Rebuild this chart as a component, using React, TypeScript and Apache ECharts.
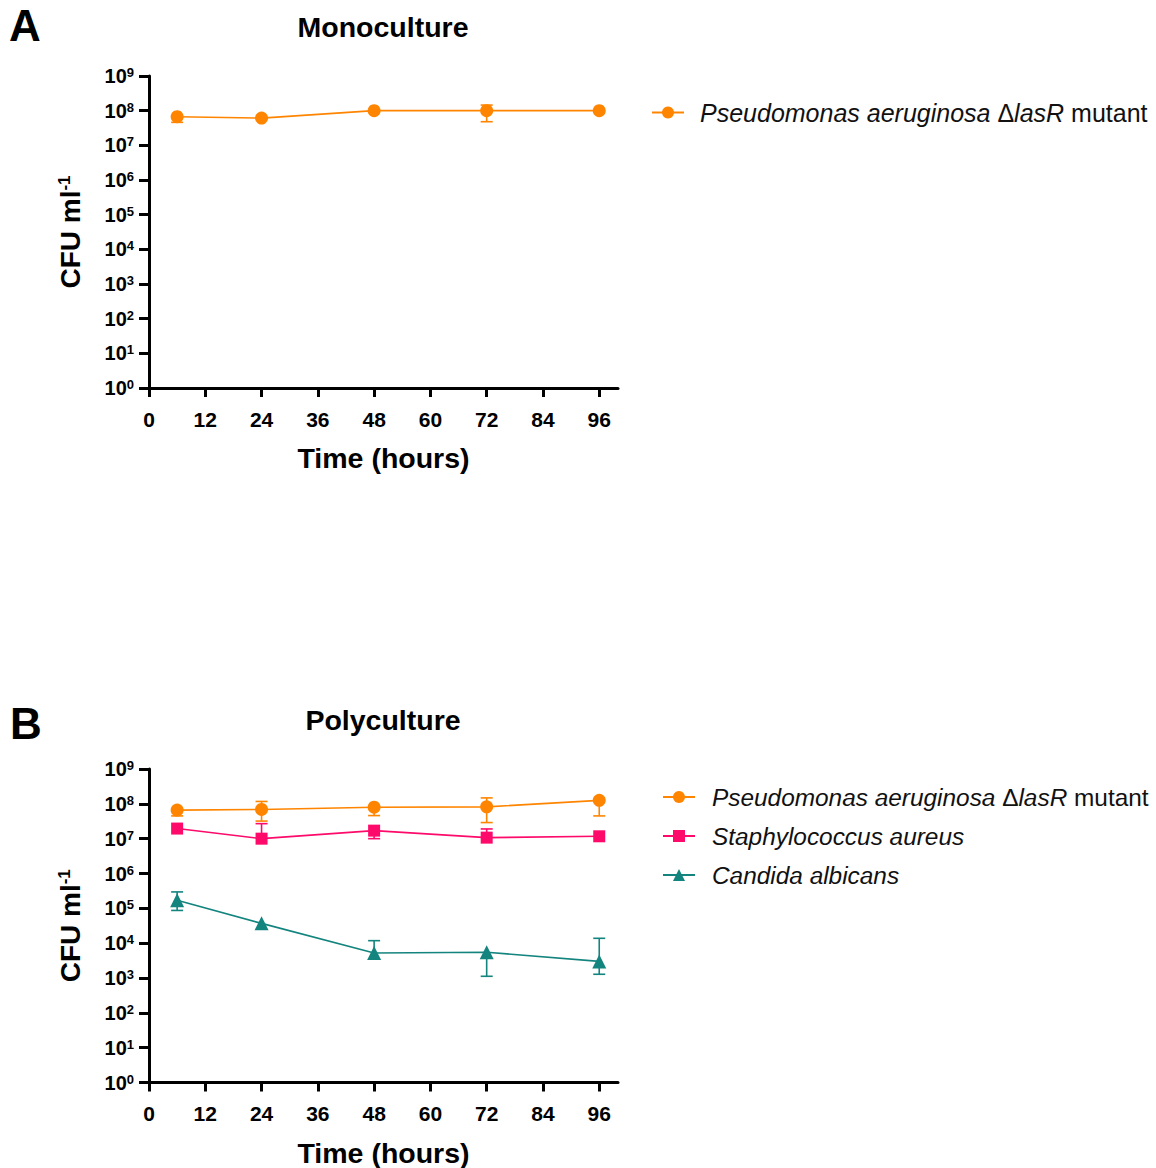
import React, { useEffect, useRef } from 'react';
import * as echarts from 'echarts';

// ---------- data ----------
const hours = [6, 24, 48, 72, 96];
const xTicks = [0, 12, 24, 36, 48, 60, 72, 84, 96];

const namePa = 'Pseudomonas aeruginosa ΔlasR mutant';
const nameSa = 'Staphylococcus aureus';
const nameCa = 'Candida albicans';

// Panel A – monoculture
const monoPa = [6.7e7, 6.1e7, 1.0e8, 1.0e8, 1.0e8];
const monoPaLo = [4.6e7, 6.1e7, 1.0e8, 4.8e7, 1.0e8];
const monoPaHi = [6.7e7, 6.1e7, 1.0e8, 1.45e8, 1.0e8];

// Panel B – polyculture
const polyPa = [6.6e7, 6.9e7, 8.0e7, 8.2e7, 1.26e8];
const polyPaLo = [4.5e7, 3.2e7, 4.6e7, 2.9e7, 4.5e7];
const polyPaHi = [6.6e7, 1.17e8, 8.0e7, 1.48e8, 1.26e8];

const polySa = [1.95e7, 1.0e7, 1.7e7, 1.07e7, 1.17e7];
const polySaLo = [1.95e7, 1.0e7, 1.0e7, 1.07e7, 1.17e7];
const polySaHi = [1.95e7, 2.7e7, 1.7e7, 1.9e7, 1.17e7];

const polyCa = [1.7e5, 3.7e4, 5.2e3, 5.5e3, 3.0e3];
const polyCaLo = [8.7e4, 3.7e4, 5.2e3, 1.12e3, 1.28e3];
const polyCaHi = [2.96e5, 3.7e4, 1.18e4, 5.5e3, 1.38e4];

// ---------- styles ----------
const FONT = "'Liberation Sans', Arial, Helvetica, sans-serif";
const ORANGE = '#ff8500';
const PINK = '#fe0a6b';
const TEAL = '#14847f';

function errSeries(gi: number, color: string, v: number[], lo: number[], hi: number[]) {
  return {
    type: 'custom',
    name: 'err' + gi + color,
    xAxisIndex: gi,
    yAxisIndex: gi,
    z: 1,
    silent: true,
    clip: false,
    encode: { x: 0, y: [1, 2, 3] },
    data: hours.map((h, i) => [h, v[i], lo[i], hi[i]]),
    renderItem: (params: any, api: any) => {
      const x = api.value(0);
      const c = api.value(1);
      const l = api.value(2);
      const u = api.value(3);
      const pc = api.coord([x, c]);
      const children: any[] = [];
      const style = { stroke: color, lineWidth: 1.6, fill: 'none' };
      const cw = 6;
      if (u > c) {
        const pu = api.coord([x, u]);
        children.push({ type: 'line', shape: { x1: pc[0], y1: pc[1], x2: pu[0], y2: pu[1] }, style });
        children.push({ type: 'line', shape: { x1: pu[0] - cw, y1: pu[1], x2: pu[0] + cw, y2: pu[1] }, style });
      }
      if (l < c) {
        const pl = api.coord([x, l]);
        children.push({ type: 'line', shape: { x1: pc[0], y1: pc[1], x2: pl[0], y2: pl[1] }, style });
        children.push({ type: 'line', shape: { x1: pl[0] - cw, y1: pl[1], x2: pl[0] + cw, y2: pl[1] }, style });
      }
      return { type: 'group', children };
    },
  };
}

function lineSeries(gi: number, name: string, color: string, symbol: string, size: number, v: number[]) {
  return {
    type: 'line',
    name,
    xAxisIndex: gi,
    yAxisIndex: gi,
    z: 3,
    data: hours.map((h, i) => [h, v[i]]),
    symbol,
    symbolSize: size,
    showAllSymbol: true,
    color,
    itemStyle: { color, opacity: 1 },
    lineStyle: { color, width: 1.6 },
  };
}

function xAxis(gi: number) {
  return {
    gridIndex: gi,
    type: 'value',
    min: 0,
    max: 100,
    interval: 12,
    axisLine: { onZero: false, lineStyle: { color: '#000', width: 3 } },
    axisTick: { show: true, length: 9, customValues: xTicks, lineStyle: { color: '#000', width: 3 } },
    axisLabel: {
      customValues: xTicks,
      fontSize: 21,
      fontWeight: 'bold',
      fontFamily: FONT,
      color: '#000',
      margin: 31,
      verticalAlign: 'middle',
    },
    splitLine: { show: false },
    name: 'Time (hours)',
    nameLocation: 'middle',
    nameGap: 70,
    nameTextStyle: { fontSize: 28.5, fontWeight: 'bold', fontFamily: FONT, color: '#000', verticalAlign: 'middle' },
  };
}

function yAxis(gi: number) {
  return {
    gridIndex: gi,
    type: 'log',
    logBase: 10,
    min: 1,
    max: 1e9,
    splitNumber: 9,
    axisLine: { show: true, lineStyle: { color: '#000', width: 3 } },
    axisTick: { show: true, length: 10, lineStyle: { color: '#000', width: 3 } },
    axisLabel: {
      margin: 15,
      formatter: (v: number) => `{b|10}{s|${Math.round(Math.log10(v))}}`,
      rich: {
        b: { fontSize: 20, fontWeight: 'bold', fontFamily: FONT, color: '#000', lineHeight: 20 },
        s: { fontSize: 13, fontWeight: 'bold', fontFamily: FONT, color: '#000', lineHeight: 12, verticalAlign: 'top' },
      },
    },
    splitLine: { show: false },
    name: '{a|CFU ml}{s|-1}',
    nameLocation: 'middle',
    nameGap: 79,
    nameTextStyle: {
      verticalAlign: 'middle',
      rich: {
        a: { fontSize: 28, fontWeight: 'bold', fontFamily: FONT, color: '#000', lineHeight: 28 },
        s: { fontSize: 17, fontWeight: 'bold', fontFamily: FONT, color: '#000', lineHeight: 17, verticalAlign: 'top' },
      },
    },
  };
}

function legendRich(fs: number, gap: number) {
  return {
    i0: { fontSize: fs, fontStyle: 'italic', fontFamily: FONT, color: '#111', lineHeight: 28, padding: [0, 0, 0, gap] },
    i: { fontSize: fs, fontStyle: 'italic', fontFamily: FONT, color: '#111', lineHeight: 28 },
    n: { fontSize: fs, fontFamily: FONT, color: '#111', lineHeight: 28 },
  };
}

function legendFormatter(name: string) {
  if (name === namePa) {
    return '{i0|Pseudomonas aeruginosa }{n|Δ}{i|lasR}{n| mutant}';
  }
  return `{i0|${name}}`;
}

function legend(data: string[], left: number, top: number, fs: number, gap: number, itemGap: number) {
  return {
    data,
    orient: 'vertical',
    left,
    top,
    itemWidth: 32,
    itemHeight: 15,
    itemGap,
    selectedMode: false,
    formatter: legendFormatter,
    textStyle: { rich: legendRich(fs, gap) },
  };
}

export default function App() {
  const ref = useRef<HTMLDivElement>(null);
  useEffect(() => {
    const chart = echarts.init(ref.current!, null, { renderer: 'svg' });
    const option: any = {
      animation: false,
      backgroundColor: '#fff',
      textStyle: { fontFamily: FONT },
      grid: [
        { left: 149, top: 76, width: 469, height: 312 },
        { left: 149, top: 769, width: 469, height: 314 },
      ],
      xAxis: [xAxis(0), xAxis(1)],
      yAxis: [yAxis(0), yAxis(1)],
      legend: [
        legend([namePa], 646, 95, 25, 11, 11),
        legend([namePa, nameSa, nameCa], 657, 780, 24.4, 12, 15),
      ],
      graphic: [
        { type: 'text', x: 9, y: 25, style: { text: 'A', font: `bold 44px ${FONT}`, fill: '#000', verticalAlign: 'middle' } },
        { type: 'text', x: 10, y: 723, style: { text: 'B', font: `bold 44px ${FONT}`, fill: '#000', verticalAlign: 'middle' } },
        { type: 'text', x: 383, y: 27, style: { text: 'Monoculture', font: `bold 28.5px ${FONT}`, fill: '#000', align: 'center', verticalAlign: 'middle' } },
        { type: 'text', x: 383, y: 720, style: { text: 'Polyculture', font: `bold 28.5px ${FONT}`, fill: '#000', align: 'center', verticalAlign: 'middle' } },
      ],
      series: [
        errSeries(0, ORANGE, monoPa, monoPaLo, monoPaHi),
        lineSeries(0, namePa, ORANGE, 'circle', 13, monoPa),
        errSeries(1, ORANGE, polyPa, polyPaLo, polyPaHi),
        errSeries(1, PINK, polySa, polySaLo, polySaHi),
        errSeries(1, TEAL, polyCa, polyCaLo, polyCaHi),
        lineSeries(1, namePa, ORANGE, 'circle', 13, polyPa),
        lineSeries(1, nameSa, PINK, 'rect', 12, polySa),
        lineSeries(1, nameCa, TEAL, 'triangle', 14, polyCa),
      ],
    };
    chart.setOption(option);
    return () => chart.dispose();
  }, []);
  return (
    <div
      ref={ref}
      style={{ position: 'fixed', left: 0, top: 0, width: 1156, height: 1168, background: '#fff' }}
    />
  );
}
